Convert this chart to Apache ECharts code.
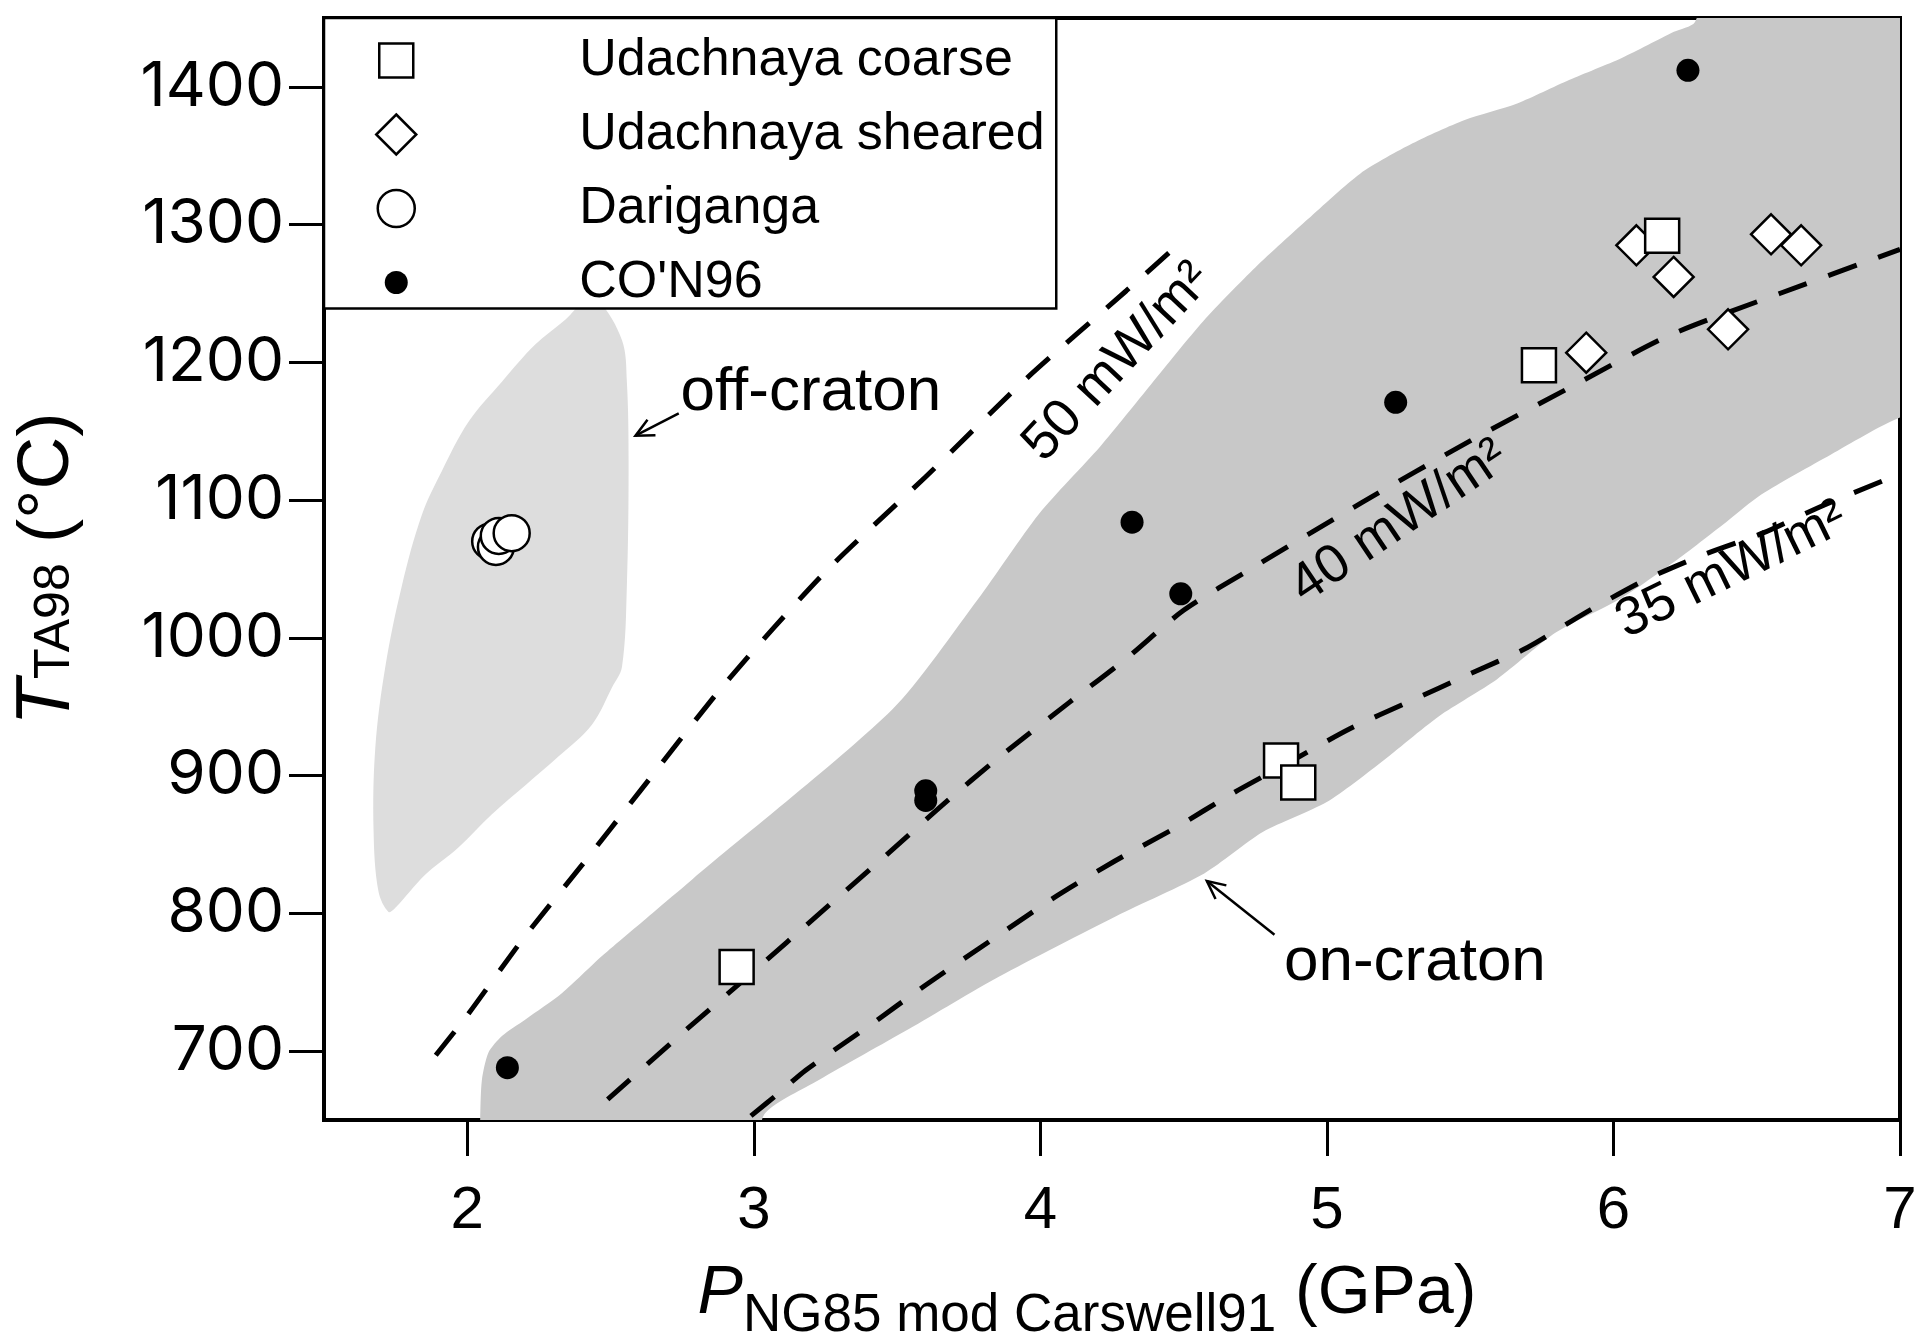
<!DOCTYPE html>
<html>
<head>
<meta charset="utf-8">
<title>Udachnaya xenolith P–T</title>
<script src="https://cdn.jsdelivr.net/npm/echarts@6/dist/echarts.min.js"></script>
<style>
  html, body { margin: 0; padding: 0; background: #fff; }
  #chart { width: 1919px; height: 1338px; }
</style>
</head>
<body>
<div id="chart"></div>
<script>
// ---- Xenolith P–T estimates: P (GPa), T (°C) ----
const coarseP   = [2.94, 4.84, 4.90, 5.74, 6.17];
const coarseT   = [761, 911, 895, 1198, 1292];

const shearedP  = [6.08, 6.21, 5.905, 6.40, 6.55, 6.655];
const shearedT  = [1285, 1262, 1207, 1224, 1293, 1285];

const darigangaP = [2.08, 2.10, 2.11, 2.155];
const darigangaT = [1070, 1066, 1074, 1076];

const conP = [2.14, 3.60, 3.60, 4.32, 4.49, 5.24, 6.26];
const conT = [688, 889, 882, 1084, 1032, 1171, 1412];

// ---- Conductive geotherms ----
const geo50P = [1.89, 2.0, 2.2, 2.4, 2.6, 2.9, 3.25, 3.6, 3.95, 4.3, 4.5];
const geo50T = [697, 726, 783, 835, 888, 967, 1048, 1117, 1188, 1252, 1289];

const geo40P = [2.49, 2.75, 3.0, 3.23, 3.45, 3.66, 3.86, 4.1, 4.3, 4.5, 4.75, 5.12, 5.5, 5.85, 6.2, 6.58, 7.0];
const geo40T = [665, 713, 758, 800, 840, 879, 914, 953, 985, 1020, 1052, 1098, 1143, 1182, 1220, 1250, 1282];

const geo35P = [2.99, 3.09, 3.18, 3.4, 3.6, 3.86, 4.06, 4.26, 4.47, 4.67, 4.88, 5.08, 5.29, 5.49, 5.7, 5.9, 6.11, 6.31, 6.52, 6.72, 6.94];
const geo35T = [653, 670, 686, 718, 748, 785, 813, 838, 862, 887, 911, 934, 954, 973, 993, 1018, 1042, 1060, 1076, 1095, 1114];

// ---- Field outlines (the on-craton outline runs past the frame and is clipped) ----
const onCratonP = [2.04, 2.045, 2.051, 2.074, 2.121, 2.203, 2.33, 2.47, 2.645, 2.784, 3.483, 3.782, 3.995, 4.209, 4.386,
  4.569, 4.751, 4.934, 5.116, 5.299, 5.481, 5.664, 5.845, 6.029, 6.211, 6.284, 6.36, 7.4, 7.4, 7.0, 6.758, 6.516, 6.393,
  6.211, 6.029, 5.8, 5.594, 5.39, 5.185, 5.001, 4.776, 4.572, 4.264, 3.855, 3.541, 3.227, 3.04, 2.98];
const onCratonT = [600, 650, 679, 699, 711, 723, 742, 769, 800, 824.5, 948, 1028, 1090, 1139, 1184,
  1230, 1269, 1304, 1337, 1359, 1376, 1388, 1405, 1421, 1440, 1447, 1490, 1490, 1185, 1160, 1133, 1104, 1084,
  1055, 1029, 1004, 970, 943, 909, 881, 859, 829, 798, 754, 716, 679, 655, 620];

const offCratonP = [2.458, 2.540, 2.557, 2.563, 2.557, 2.540, 2.505, 2.435, 2.319, 2.203, 2.086, 1.970, 1.853, 1.749,
  1.725, 1.690, 1.673, 1.679, 1.714, 1.772, 1.841, 1.911, 2.005, 2.121, 2.237, 2.342, 2.412];
const offCratonT = [1245, 1216, 1186, 1127, 1038, 979, 964, 937, 914, 893, 872, 848, 828, 804,
  801, 816, 860, 920, 979, 1038, 1089, 1121, 1157, 1186, 1213, 1231, 1245];

// ---- Axis ticks ----
const xTicks = [2, 3, 4, 5, 6, 7];
const yTicks = [700, 800, 900, 1000, 1100, 1200, 1300, 1400];

// ---- Annotations (anchored in data space) ----
const geoLabelText = ['50 mW/m²', '40 mW/m²', '35 mW/m²'];
const geoLabelP = [4.27, 5.253, 6.412];
const geoLabelT = [1200, 1084, 1049];

const fieldLabelText = ['off-craton', 'on-craton'];
const fieldLabelP = [2.744, 4.850];
const fieldLabelT = [1178, 764];

const arrowFromP = [2.738, 4.817];
const arrowFromT = [1163, 784.5];
const arrowToP = [2.587, 4.581];
const arrowToT = [1146.8, 823.5];

const FONT = '"Liberation Sans", Arial, Helvetica, sans-serif';
const TICK_FONT = 'Inter, "Liberation Sans", Arial, sans-serif';
const geoLabelAngle = [47, 34, 26];

const zip = (a, b) => a.map((v, i) => [v, b[i]]);

function fieldSeries(name, P, T, fill, smooth) {
  return {
    type: 'custom', name, z: 1, silent: true, clip: true,
    data: [[P[0], T[0]]],
    renderItem: (params, api) => ({
      type: 'polygon',
      shape: { points: P.map((p, i) => api.coord([p, T[i]])), smooth },
      style: { fill }
    })
  };
}

function geothermSeries(P, T) {
  return {
    type: 'line', silent: true, z: 3,
    data: zip(P, T),
    symbol: 'none', smooth: 0.25,
    lineStyle: { color: '#000', width: 5, type: [30, 23] }
  };
}

const openMark = { color: '#fff', borderColor: '#000', borderWidth: 2.5, opacity: 1 };

const option = {
  backgroundColor: '#fff',
  animation: false,
  grid: {
    left: 324, right: 19, top: 18, bottom: 218,
    outerBoundsMode: 'none', containLabel: false,
    show: true, borderColor: '#000', borderWidth: 4
  },
  xAxis: {
    type: 'value', min: 1.5, max: 7, interval: 0.5,
    axisLine: { lineStyle: { color: '#000', width: 4 } },
    axisTick: { customValues: xTicks, length: 36, lineStyle: { color: '#000', width: 3 } },
    axisLabel: { customValues: xTicks, fontSize: 60, margin: 61, color: '#000', fontFamily: FONT },
    splitLine: { show: false },
    name: '{p|P}{s|NG85 mod Carswell91}{n| (GPa)}',
    nameLocation: 'middle', nameGap: 121,
    nameTextStyle: {
      padding: [0, 50, 0, 0],
      rich: {
        p: { fontSize: 68, fontStyle: 'italic', lineHeight: 80, fontFamily: FONT, color: '#000' },
        s: { fontSize: 53, padding: [44, 0, 0, 0], lineHeight: 80, fontFamily: FONT, color: '#000' },
        n: { fontSize: 68, lineHeight: 80, fontFamily: FONT, color: '#000' }
      }
    }
  },
  yAxis: {
    type: 'value', min: 650, max: 1450, interval: 50,
    axisLine: { lineStyle: { color: '#000', width: 4 } },
    axisTick: { customValues: yTicks, length: 35, lineStyle: { color: '#000', width: 3 } },
    axisLabel: { customValues: yTicks, fontSize: 62, margin: 40, color: '#000', fontFamily: TICK_FONT,
                 formatter: (v) => String(v) },
    splitLine: { show: false },
    name: '{t|T}{s|TA98}{n| (°C)}',
    nameLocation: 'middle', nameGap: 236,
    nameTextStyle: {
      rich: {
        t: { fontSize: 76, fontStyle: 'italic', lineHeight: 80, fontFamily: FONT, color: '#000' },
        s: { fontSize: 50, padding: [14, 0, 0, 0], lineHeight: 80, fontFamily: FONT, color: '#000' },
        n: { fontSize: 73, lineHeight: 80, fontFamily: FONT, color: '#000' }
      }
    }
  },
  legend: {
    left: 324, top: 18, orient: 'vertical',
    padding: [16.5, 10, 0, 51],
    itemWidth: 40, itemHeight: 40, itemGap: 22,
    backgroundColor: '#fff', borderColor: '#000', borderWidth: 2.5,
    selectedMode: false,
    itemStyle: { borderWidth: 2.5 },
    textStyle: { fontSize: 52, fontFamily: FONT, color: '#000', lineHeight: 40, padding: [0, 0, 0, 158], width: 467 },
    data: [
      { name: 'Udachnaya coarse', icon: 'path://M0,0M40,40M3,3L37,3L37,37L3,37Z' },
      { name: 'Udachnaya sheared', icon: 'path://M20,0L40,20L20,40L0,20Z' },
      { name: 'Dariganga', icon: 'path://M0,0M40,40M1.5,20A18.5,18.5,0,1,1,38.5,20A18.5,18.5,0,1,1,1.5,20Z' },
      { name: "CO'N96", icon: 'path://M0,0M40,40M8.5,20A11.5,11.5,0,1,1,31.5,20A11.5,11.5,0,1,1,8.5,20Z',
        itemStyle: { borderWidth: 0 } }
    ]
  },
  series: [
    fieldSeries('on-craton field', onCratonP, onCratonT, '#c8c8c8', 0.25),
    fieldSeries('off-craton field', offCratonP, offCratonT, '#dddddd', 0.35),
    geothermSeries(geo50P, geo50T),
    geothermSeries(geo40P, geo40T),
    geothermSeries(geo35P, geo35T),
    {
      // geotherm labels
      type: 'custom', silent: true, z: 4,
      data: zip(geoLabelP, geoLabelT),
      renderItem: (params, api) => {
        const pt = api.coord([api.value(0), api.value(1)]);
        return {
          type: 'text', x: pt[0], y: pt[1],
          rotation: geoLabelAngle[params.dataIndex] * Math.PI / 180,
          style: { text: geoLabelText[params.dataIndex], fontSize: 54, fontFamily: FONT, fill: '#000',
                   align: 'center', verticalAlign: 'middle' }
        };
      }
    },
    {
      // field names
      type: 'custom', silent: true, z: 4,
      data: zip(fieldLabelP, fieldLabelT),
      renderItem: (params, api) => {
        const pt = api.coord([api.value(0), api.value(1)]);
        return {
          type: 'text', x: pt[0], y: pt[1],
          style: { text: fieldLabelText[params.dataIndex], fontSize: 62, fontFamily: FONT, fill: '#000',
                   align: 'left', verticalAlign: 'middle' }
        };
      }
    },
    {
      // pointer arrows with open heads
      type: 'custom', silent: true, z: 4,
      data: arrowFromP.map((p, i) => [p, arrowFromT[i], arrowToP[i], arrowToT[i]]),
      renderItem: (params, api) => {
        const a = api.coord([api.value(0), api.value(1)]);
        const b = api.coord([api.value(2), api.value(3)]);
        const ang = Math.atan2(b[1] - a[1], b[0] - a[0]);
        const len = 20, spread = 0.45;
        const h1 = [b[0] - len * Math.cos(ang - spread), b[1] - len * Math.sin(ang - spread)];
        const h2 = [b[0] - len * Math.cos(ang + spread), b[1] - len * Math.sin(ang + spread)];
        const st = { stroke: '#000', lineWidth: 2.5, fill: null };
        return {
          type: 'group',
          children: [
            { type: 'line', shape: { x1: a[0], y1: a[1], x2: b[0], y2: b[1] }, style: st },
            { type: 'polyline', shape: { points: [h1, b, h2] }, style: st }
          ]
        };
      }
    },
    {
      name: 'Dariganga', type: 'scatter', z: 5,
      data: zip(darigangaP, darigangaT),
      symbol: 'circle', symbolSize: 36,
      itemStyle: openMark
    },
    {
      name: "CO'N96", type: 'scatter', z: 5,
      data: zip(conP, conT),
      symbol: 'circle', symbolSize: 23,
      itemStyle: { color: '#000', opacity: 1 }
    },
    {
      name: 'Udachnaya sheared', type: 'scatter', z: 5,
      data: zip(shearedP, shearedT),
      symbol: 'diamond', symbolSize: 40,
      itemStyle: openMark
    },
    {
      name: 'Udachnaya coarse', type: 'scatter', z: 6,
      data: zip(coarseP, coarseT),
      symbol: 'rect', symbolSize: 34,
      itemStyle: openMark
    }
  ]
};

const chart = echarts.init(document.getElementById('chart'));
chart.setOption(option);
</script>
</body>
</html>
